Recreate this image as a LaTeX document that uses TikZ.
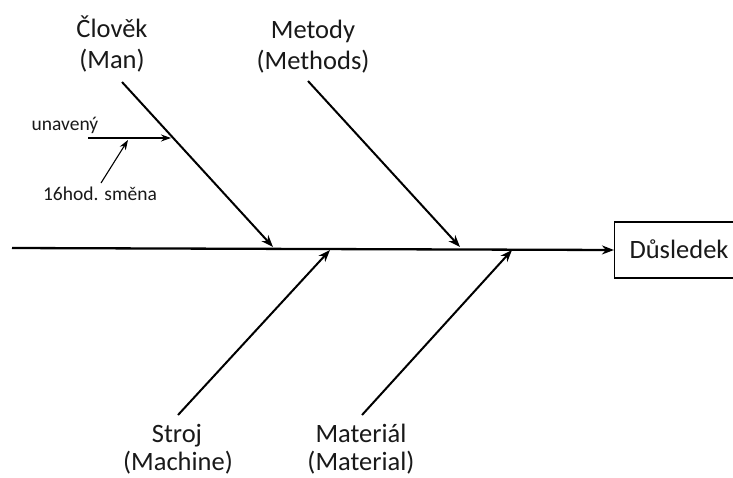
\documentclass[tikz,border=0pt]{standalone}
\usepackage{fontspec}
\setmainfont{Carlito}
\usetikzlibrary{arrows.meta}
\begin{document}
\begin{tikzpicture}[x=1pt,y=-1pt,
  bone/.style={line width=2pt,-{Stealth[length=12pt,width=9pt]}},
  twig/.style={line width=1.1pt,-{Stealth[length=10pt,width=7pt]}},
  cat/.style={align=center,inner sep=0pt,font=\fontsize{26.5}{31}\selectfont,text=black!90},
  note/.style={inner sep=0pt,anchor=base,font=\fontsize{19.5}{22}\selectfont,text=black!90},
  effect/.style={draw,line width=1.1pt,minimum width=119pt,minimum height=56pt,inner sep=0pt}]
\useasboundingbox (0,0) rectangle (733,477);
\fill[white] (0,0) rectangle (733,477);

% effect box at the head of the spine
\node[effect] (res) at (674,250) {};
\node[inner sep=0pt,anchor=base,font=\fontsize{26.5}{31}\selectfont,text=black!90] (restext) at (679,258) {Důsledek};

% spine
\coordinate (tail) at (12,248);
\draw[bone,line width=2.3pt] (tail) -- (res.west);

% category labels
\node[cat,anchor=base] (man1) at (112,37) {Člověk};
\node[cat,anchor=base] (man2) at (112,68) {(Man)};
\node[cat,anchor=base] (met1) at (313,38) {Metody};
\node[cat,anchor=base] (met2) at (313,69) {(Methods)};
\node[cat,anchor=base] (mac1) at (177,442) {Stroj};
\node[cat,anchor=base] (mac2) at (178,470) {(Machine)};
\node[cat,anchor=base] (mat1) at (361,442) {Materiál};
\node[cat,anchor=base] (mat2) at (361,470) {(Material)};

% bone ends
\coordinate (manS) at (122,82);
\coordinate (manT) at (273,247);
\coordinate (metS) at (308,81);
\coordinate (metT) at (460,247);
\coordinate (macS) at (178,415);
\coordinate (macT) at (330,250);
\coordinate (matS) at (362,415);
\coordinate (matT) at (512,250);

\draw[bone] (manS) -- (manT);
\draw[bone] (metS) -- (metT);
\draw[bone] (macS) -- (macT);
\draw[bone] (matS) -- (matT);

% sub-causes on the Man bone
\node[note] (tired) at (65,130) {unavený};
\node[note] (shift) at (100,200) {16hod. směna};
\coordinate (tiredS) at (88,138);
\coordinate (tiredT) at (171,138);
\coordinate (shiftS) at (101,183);
\coordinate (shiftT) at (128,140);
\draw[twig] (tiredS) -- (tiredT);
\draw[twig] (shiftS) -- (shiftT);
\end{tikzpicture}
\end{document}
